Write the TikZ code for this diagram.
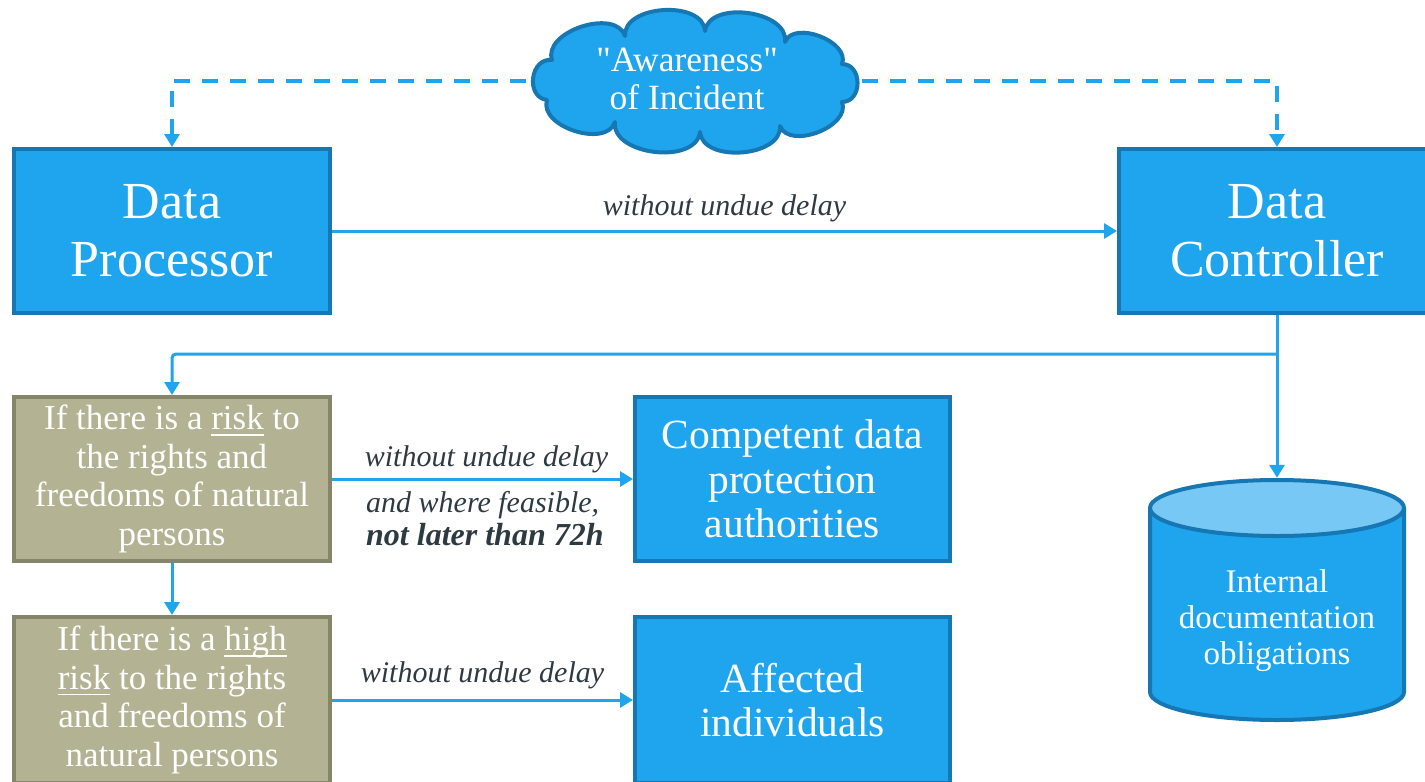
\documentclass[tikz,border=0pt]{standalone}
\usepackage{fontspec}
\setmainfont{Liberation Serif}[Ligatures=TeXOff]
\usetikzlibrary{arrows.meta,shapes.symbols,positioning}

\definecolor{boxblue}{HTML}{1FA5EE}
\definecolor{boxedge}{HTML}{1677B3}
\definecolor{olivefill}{HTML}{B3B394}
\definecolor{oliveedge}{HTML}{85856B}
\definecolor{topblue}{HTML}{78C8F5}
\definecolor{labelgray}{HTML}{2E3A42}

\newcommand\ulword[1]{\setbox0\hbox{#1}\rlap{\smash{\rule[-6pt]{\wd0}{1.6pt}}}\box0\relax}

\begin{document}
\begin{tikzpicture}[x=1pt,y=-1pt,
  bluebox/.style={draw=boxedge, fill=boxblue, line width=4pt, text=white, align=center, inner sep=0pt},
  olivebox/.style={draw=oliveedge, fill=olivefill, line width=4pt, text=white, align=center, inner sep=0pt,
    minimum width=316pt, font=\fontsize{35}{38.5}\selectfont},
  bigtxt/.style={font=\fontsize{52}{58}\selectfont},
  midtxt/.style={font=\fontsize{41.5}{44.5}\selectfont},
  arr/.style={draw=boxblue, line width=3pt, -{Triangle[width=15pt,length=13pt]}},
  dasharr/.style={arr, line width=3.5pt, dash pattern=on 16pt off 12pt},
  lbl/.style={text=labelgray, inner sep=0pt, font=\fontsize{30}{34}\selectfont\itshape},
  puff/.style={bend left=90, looseness=1.0},
  endpuff/.style={bend left=90, looseness=1.4}
]
\useasboundingbox (0,0) rectangle (1425,782);

% boxes
\node[bluebox, bigtxt, minimum width=316pt, minimum height=164pt] (dp) at (172,231) {Data\\Processor};
\node[bluebox, bigtxt, minimum width=316pt, minimum height=164pt] (dc) at (1277,231) {Data\\Controller};
\node[olivebox, minimum height=164pt] (risk) at (172,479)
  {If there is a \ulword{risk} to\\the rights and\\freedoms of natural\\persons};
\node[olivebox, minimum height=166pt] (high) at (172,700)
  {If there is a \ulword{high}\\\ulword{risk} to the rights\\and freedoms of\\natural persons};
\node[bluebox, midtxt, minimum width=315pt, minimum height=164pt] (comp) at (792.5,479)
  {Competent data\\protection\\authorities};
\node[bluebox, midtxt, minimum width=315pt, minimum height=166pt] (aff) at (792.5,700)
  {Affected\\individuals};

% cloud
\draw[boxedge, fill=boxblue, line width=4pt, line join=round]
  (547,100) to[endpuff] (552,60) to[puff] (625,36) to[puff] (705,31) to[puff] (785,42)
  to[puff] (842,64) to[endpuff] (842,102) to[puff] (780,126) to[puff] (700,132)
  to[puff] (615,122) to[puff] cycle;
\node[minimum width=335pt, minimum height=142pt, inner sep=0pt] (cloud) at (694,81) {};
\node[text=white, align=center, inner sep=0pt, font=\fontsize{35.5}{38}\selectfont] (cloudtxt) at (687,79)
  {"Awareness"\\of Incident};

% cylinder
\fill[boxblue] (1150,508) -- (1150,692) arc[start angle=180, end angle=360, x radius=127pt, y radius=28pt] -- (1404,508) -- cycle;
\draw[boxedge, line width=4pt] (1150,508) -- (1150,692) arc[start angle=180, end angle=360, x radius=127pt, y radius=28pt] -- (1404,508);
\draw[boxedge, line width=4pt, fill=topblue] (1277,508) ellipse[x radius=127pt, y radius=28pt];
\node[minimum width=258pt, minimum height=244pt, inner sep=0pt] (cyl) at (1277,600) {};
\node[text=white, align=center, inner sep=0pt, font=\fontsize{33}{36}\selectfont] (cyltxt) at (1277,621)
  {Internal\\documentation\\obligations};

% connectors
\draw[dasharr] (cloud.west) -| (dp.north);
\draw[dasharr] (cloud.east) -| (dc.north);
\draw[arr] (dp.east) -- node[lbl, midway, above=8pt] {without undue delay} (dc.west);
\draw[arr] (dc.south) -- (cyl.north);
\coordinate (br) at (1277,354);
\draw[arr, rounded corners=4pt] (br) -| (risk.north);
\draw[arr] (risk.east) -- node[lbl, midway, above=5pt, xshift=4pt] {without undue delay} (comp.west);
\node[lbl, anchor=north west, align=left, font=\fontsize{30}{33}\selectfont\itshape] (feas)
  at ([xshift=34pt,yshift=-12pt]risk.east) {and where feasible,\\{\fontsize{32}{33}\selectfont\bfseries not later than 72h}};
\draw[arr] (risk.south) -- (high.north);
\draw[arr] (high.east) -- node[lbl, midway, above=10pt] {without undue delay} (aff.west);
\end{tikzpicture}
\end{document}
